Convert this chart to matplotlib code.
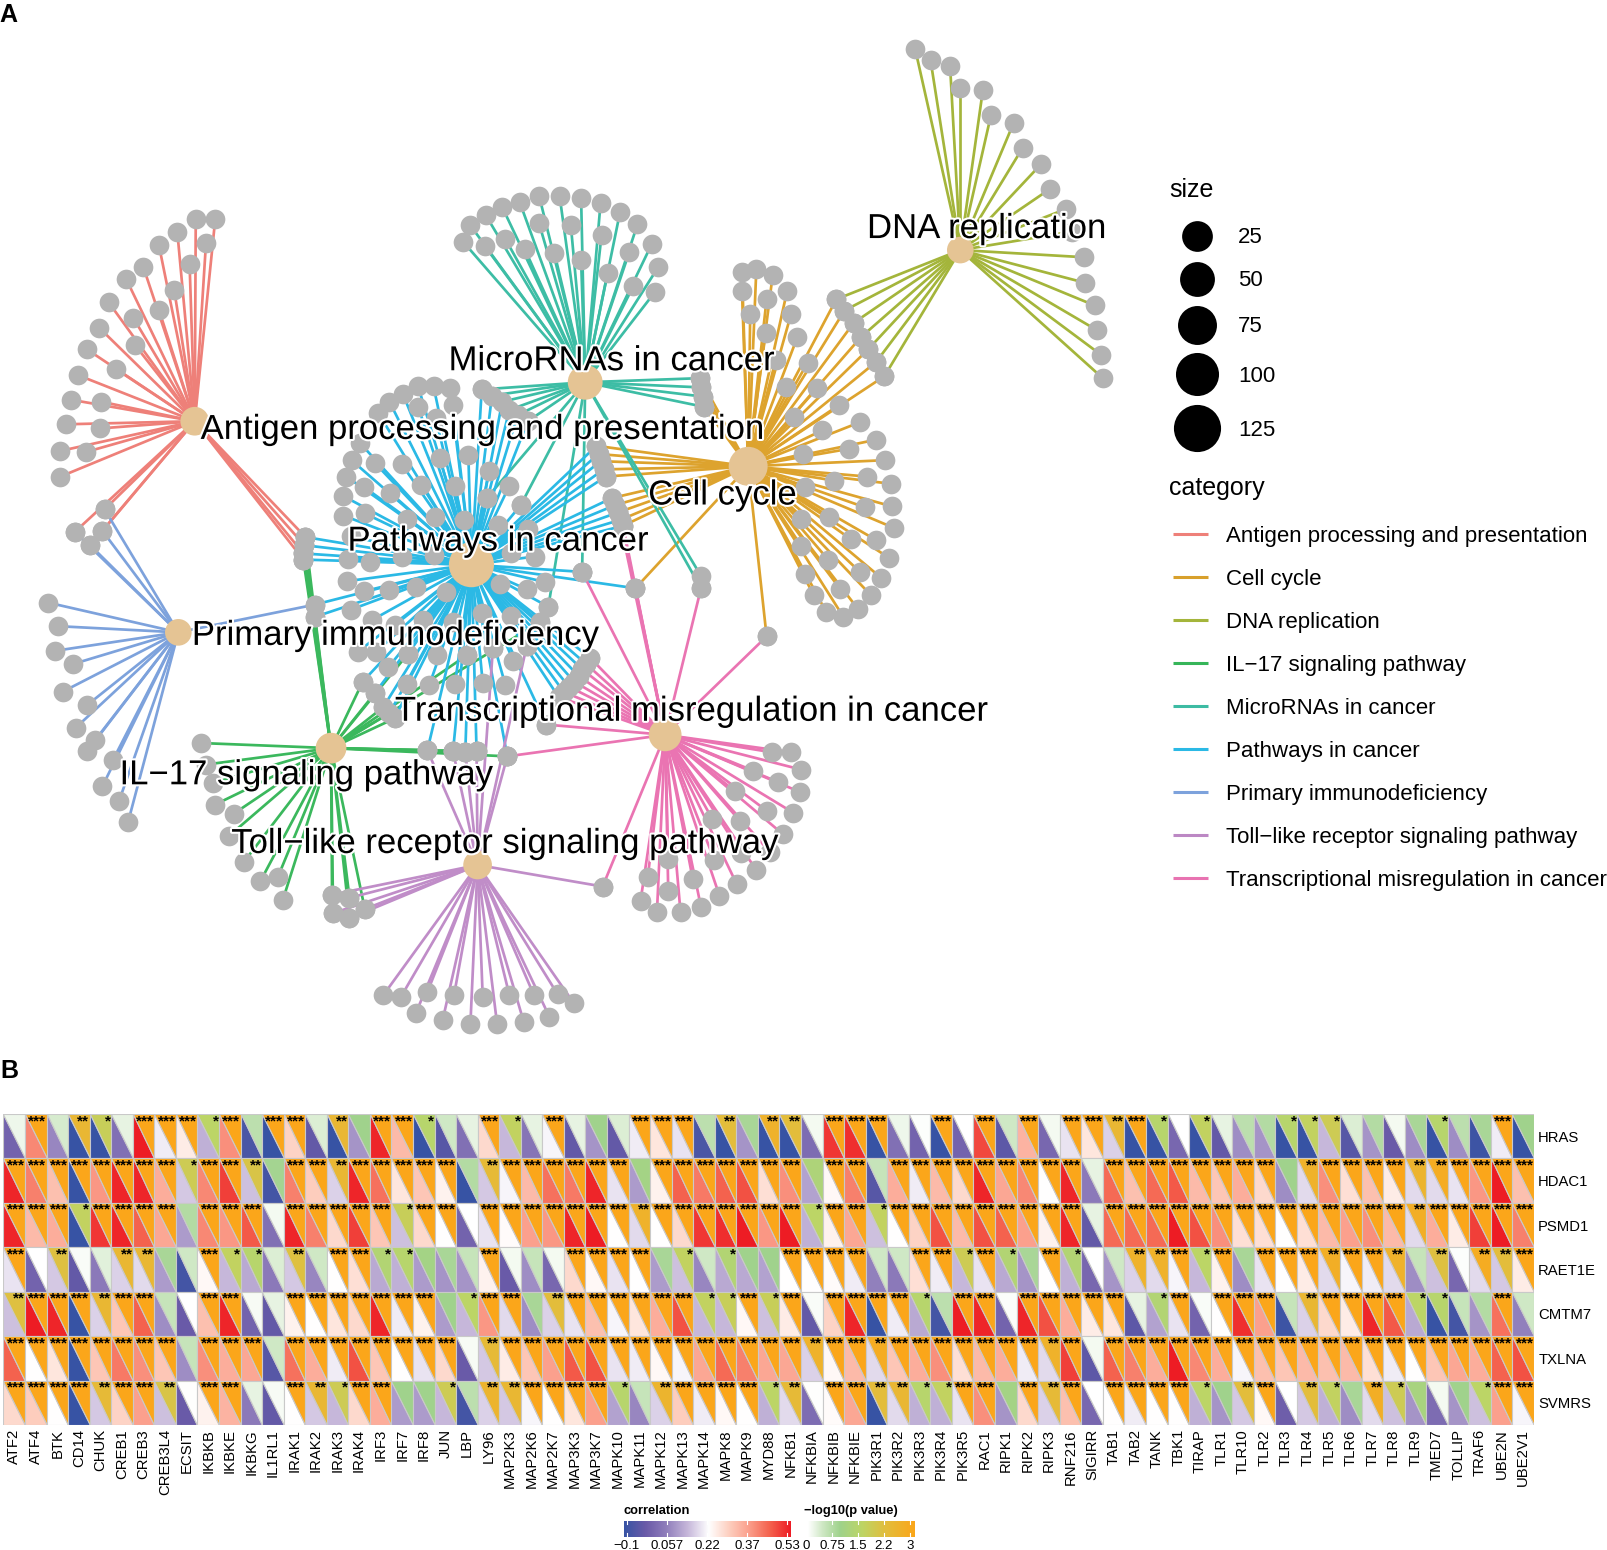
# -*- coding: utf-8 -*-
import matplotlib
matplotlib.use('Agg')
import matplotlib.pyplot as plt
import matplotlib.patheffects as pe
from matplotlib.collections import LineCollection, PolyCollection
from matplotlib.colors import LinearSegmentedColormap, Normalize
import numpy as np

plt.rcParams['font.family'] = ['Liberation Sans', 'DejaVu Sans']

###############################################################################
# Data : network (layout positions)
###############################################################################
category = ['Antigen processing and presentation', 'Cell cycle', 'DNA replication',
            'IL\u221217 signaling pathway', 'MicroRNAs in cancer', 'Pathways in cancer',
            'Primary immunodeficiency', 'Toll\u2212like receptor signaling pathway',
            'Transcriptional misregulation in cancer']
cat_colors = ['#EE8079', '#DDA32E', '#A4B53B', '#3BB85D', '#3DBDA5', '#2BB9E5',
              '#7DA2DC', '#C08DC8', '#EA74B2']
legend_colors = ['#EE8079', '#D8A02C', '#A4B53B', '#36B559', '#3DBBA3', '#2BB9E5',
                 '#7DA2DC', '#BC88C4', '#E873B1']
hub_pos = [(190, 411), (730, 455), (937, 244), (323, 730), (571, 373), (460, 551),
           (174, 617), (466, 844), (649, 717)]
hub_radius = [14, 19, 13, 15, 17, 22, 13, 14, 16]
label_pos = [(471, 419), (705, 483), (963, 223), (299, 756), (597, 352), (486, 528),
             (386, 620), (493, 823), (675, 694)]

# genes shared between pathways
shared_dna_cc = [(816, 292), (824, 303), (833, 315), (840, 329), (847, 341), (855, 353), (863, 367)]
shared_cc_mi = [(683, 369), (684, 378), (686, 387), (687, 397)]
shared_mi_pw = [(470, 380), (480, 386), (490, 392), (497, 400), (505, 405), (515, 411)]
shared_cc_pw_a = [(582, 435), (584, 443), (586, 450), (589, 458), (591, 465)]
shared_cc_pw_b = [(597, 486), (600, 493), (603, 500), (606, 507), (608, 513)]
shared_pw_tr = [(576, 642), (572, 648), (568, 653), (565, 660), (560, 665), (555, 670),
                (550, 675), (545, 680)]
shared_ag_pr = [(102, 497), (100, 518), (73, 519), (88, 532)]
shared_ag_il_pw = [(298, 524), (297, 532), (296, 540), (296, 546)]
shared_il_pw = [(354, 665), (366, 676), (374, 690), (380, 696), (385, 701)]
shared_low = [(417, 732), (442, 733), (454, 734), (465, 733)]
shared_il_tl = [(324, 873), (341, 876), (356, 887), (341, 896), (325, 891)]

leaves_antigen = [(191, 214), (210, 214), (173, 226), (155, 239), (201, 237), (185, 258),
                  (140, 261), (123, 272), (170, 283), (106, 295), (155, 302), (130, 310),
                  (97, 320), (85, 341), (132, 337), (76, 366), (113, 360), (69, 390),
                  (64, 414), (99, 392), (98, 418), (59, 440), (84, 441), (59, 465)]
leaves_cell = [(724, 265), (738, 262), (754, 268), (724, 284), (748, 292), (768, 284), (732, 306),
               (772, 306), (747, 325), (778, 329), (757, 351), (788, 354), (767, 378), (797, 379),
               (775, 407), (819, 395), (802, 420), (839, 412), (855, 429), (784, 443), (828, 438),
               (864, 449), (814, 469), (846, 465), (869, 472), (785, 475), (844, 495), (870, 494),
               (782, 506), (809, 504), (872, 515), (830, 526), (855, 527), (782, 533), (867, 544),
               (808, 546), (839, 558), (860, 564), (785, 560), (820, 575), (850, 581), (794, 581),
               (837, 594), (806, 597), (823, 602), (620, 574), (748, 621)]
leaves_dna = [(893, 48), (908, 59), (927, 64), (937, 86), (959, 88), (967, 112), (989, 120),
              (998, 144), (1016, 160), (1025, 184), (1040, 204), (1046, 226), (1058, 251),
              (1059, 276), (1068, 298), (1070, 322), (1074, 346), (1076, 369)]
leaves_il17 = [(196, 725), (201, 746), (208, 764), (210, 785), (228, 794), (223, 816), (238, 841),
               (254, 860), (271, 856), (276, 878), (495, 738), (398, 638), (456, 639), (527, 607),
               (307, 602)]
leaves_micro = [(452, 236), (459, 220), (474, 210), (490, 202), (507, 197), (526, 191), (546, 191),
                (567, 193), (586, 198), (605, 207), (622, 219), (636, 238), (642, 261), (639, 285),
                (618, 279), (614, 246), (593, 266), (587, 229), (567, 254), (557, 220), (541, 247),
                (526, 218), (512, 243), (493, 233), (473, 240), (684, 562),
                (684, 574), (568, 558), (535, 592), (508, 493), (475, 486)]
leaves_path = [(439, 379), (423, 377), (408, 377), (393, 384), (380, 392), (369, 403),
               (351, 432), (343, 449), (338, 465), (335, 484), (335, 503), (342, 523),
               (442, 395), (408, 397), (425, 408), (366, 452), (392, 453), (429, 447),
               (457, 444), (477, 460), (355, 475), (381, 481), (411, 473), (444, 474),
               (497, 474), (475, 486), (508, 493), (356, 501), (397, 506), (424, 504),
               (453, 507), (486, 512), (515, 516), (340, 545), (361, 548), (392, 543),
               (423, 542), (499, 540), (522, 543), (339, 567), (355, 577), (380, 576),
               (406, 573), (435, 578), (488, 570), (514, 575), (532, 568), (342, 595),
               (363, 605), (385, 610), (413, 605), (470, 598), (499, 601), (535, 592),
               (527, 607), (442, 607), (349, 636), (367, 636), (398, 638), (426, 639),
               (456, 639), (481, 632), (514, 630), (501, 645), (379, 651), (397, 667),
               (419, 668), (444, 667), (471, 666), (493, 668), (568, 558), (620, 574),
               (307, 590), (307, 602), (533, 707), (495, 738)]
leaves_primary = [(47, 588), (57, 611), (54, 635), (71, 648), (61, 675), (85, 688), (74, 710),
                  (93, 722), (85, 733), (110, 742), (100, 767), (116, 782), (125, 802),
                  (307, 590)]
leaves_toll = [(374, 971), (391, 973), (417, 968), (406, 988), (443, 971), (432, 995),
               (471, 973), (459, 999), (497, 971), (485, 999), (521, 971), (511, 997),
               (544, 970), (536, 992), (560, 979), (588, 865), (495, 738), (481, 632),
               (514, 630)]
leaves_trans = [(753, 734), (772, 734), (782, 751), (735, 752), (759, 763), (781, 773), (717, 772),
                (748, 791), (774, 793), (695, 799), (722, 801), (764, 814), (751, 831), (697, 839),
                (723, 832), (652, 838), (738, 849), (719, 863), (632, 856), (676, 858), (652, 869),
                (702, 874), (625, 879), (684, 885), (641, 890), (664, 890),
                (748, 621), (620, 574), (568, 558), (684, 574), (495, 738),
                (533, 707), (588, 865)]

hub_leaves = [leaves_antigen + shared_ag_pr + shared_ag_il_pw,
              leaves_cell + shared_dna_cc + shared_cc_mi + shared_cc_pw_a + shared_cc_pw_b,
              leaves_dna + shared_dna_cc,
              leaves_il17 + shared_ag_il_pw + shared_il_pw + shared_low + shared_il_tl,
              leaves_micro + shared_cc_mi + shared_mi_pw,
              leaves_path + shared_mi_pw + shared_cc_pw_a + shared_cc_pw_b + shared_pw_tr
              + shared_ag_il_pw + shared_il_pw + shared_low,
              leaves_primary + shared_ag_pr,
              leaves_toll + shared_il_tl + shared_low,
              leaves_trans + shared_cc_pw_b[2:] + shared_pw_tr]

size_breaks = [25, 50, 75, 100, 125]
size_radius = [15, 17, 19, 21, 23]

###############################################################################
# Data : heatmap
###############################################################################
genes = ['ATF2', 'ATF4', 'BTK', 'CD14', 'CHUK', 'CREB1', 'CREB3', 'CREB3L4', 'ECSIT', 'IKBKB',
         'IKBKE', 'IKBKG', 'IL1RL1', 'IRAK1', 'IRAK2', 'IRAK3', 'IRAK4', 'IRF3', 'IRF7', 'IRF8',
         'JUN', 'LBP', 'LY96', 'MAP2K3', 'MAP2K6', 'MAP2K7', 'MAP3K3', 'MAP3K7', 'MAPK10',
         'MAPK11', 'MAPK12', 'MAPK13', 'MAPK14', 'MAPK8', 'MAPK9', 'MYD88', 'NFKB1', 'NFKBIA',
         'NFKBIB', 'NFKBIE', 'PIK3R1', 'PIK3R2', 'PIK3R3', 'PIK3R4', 'PIK3R5', 'RAC1', 'RIPK1',
         'RIPK2', 'RIPK3', 'RNF216', 'SIGIRR', 'TAB1', 'TAB2', 'TANK', 'TBK1', 'TIRAP', 'TLR1',
         'TLR10', 'TLR2', 'TLR3', 'TLR4', 'TLR5', 'TLR6', 'TLR7', 'TLR8', 'TLR9', 'TMED7',
         'TOLLIP', 'TRAF6', 'UBE2N', 'UBE2V1']
targets = ['HRAS', 'HDAC1', 'PSMD1', 'RAET1E', 'CMTM7', 'TXLNA', 'SVMRS']

corr_hras = [0, .4, .07, -.1, -.1, .03, .53, .2, .25, .13, .39, -.07, -.1, .29, -.03, -.1, .09,
             .52, .33, -.1, -.05, .03, .28, .14, .04, .21, -.03, .09, -.03, .2, .26, .19, -.07,
             -.1, .09, -.1, -.1, .02, .5, .51, -.1, .03, 0, -.1, 0, .48, -.04, .34, .01, .19,
             .26, .17, -.1, -.1, .01, -.1, -.03, .08, .09, -.1, -.1, .14, -.05, .09, -.02, .08,
             -.1, .08, -.09, .2, -.1]
corr_hdac1 = [.52, .41, .32, -.1, .38, .52, .52, .35, .16, .4, .49, .15, -.08, .41, .3, .17, .52,
              .43, .26, .31, .24, -.1, .16, .21, .33, .43, .42, .52, .19, .1, .24, .45, .42, .45,
              .47, .27, .39, .11, .23, .41, -.05, .35, .2, .33, .28, .52, .36, .4, .22, .52,
              .05, .44, .32, .44, .46, .33, .31, .35, .28, .08, .18, .39, .27, .32, .25, .18,
              .18, .19, .38, .53, .32]
corr_psmd1 = [.52, .33, .35, -.1, .5, .52, .45, .36, .1, .4, .38, .46, .03, .52, .41, .28, .49,
              .31, .15, .28, .22, 0, .19, .225, .37, .38, .52, .53, .22, .18, .22, .28, .5, .51,
              .53, .38, .53, .13, .24, .36, .15, .22, .29, .47, .33, .47, .45, .37, .24, .52,
              -.03, .44, .44, .44, .53, .47, .39, .27, .27, .22, .27, .33, .37, .39, .33, .18,
              .35, .25, .49, .53, .41]
corr_raet1e = [.19, 0, .16, -.03, .05, .17, .18, .1, -.08, .23, .14, .12, .05, .16, .07, .22, .27,
               .12, .13, .1, .09, .09, .24, -.02, .08, .01, .28, .23, .19, .22, .1, .15, .07, .12,
               .12, .11, .22, .22, .225, .2, .06, .05, .27, .2, .14, .19, .12, .09, .22, .13,
               .01, .09, .17, .18, .21, .14, .24, .08, .19, .22, .25, .18, .21, .2, .18, .08,
               .15, .01, .18, .16, .25]
corr_cmtm7 = [.15, .53, .52, -.1, .17, .31, .45, .08, -.02, .32, .52, 0, -.03, .24, .22, .26, .28,
              .52, .2, .24, .1, .14, .38, .18, .08, .17, .19, .32, .21, .26, .35, .47, .14, .14,
              .23, .15, .25, -.03, .29, .52, -.1, .2, .12, -.08, .53, .52, 0, .52, .47, .35,
              .25, .26, -.04, .11, .19, 0, .22, .51, .37, -.09, .17, .28, .25, .52, .46, .12,
              -.1, -.08, .09, .43, .06]
corr_txlna = [.45, .22, .26, -.1, .31, .42, .39, .31, .08, .39, .35, .36, -.05, .43, .35, .2, .47,
              .31, .22, .19, .28, -.02, .16, .25, .31, .37, .46, .47, .19, .2, .23, .21, .36, .44,
              .41, .36, .36, .17, .23, .33, .18, .31, .35, .39, .27, .33, .35, .2, .18, .49,
              -.04, .45, .41, .35, .53, .4, .35, .21, .32, .31, .33, .32, .33, .27, .2, .22,
              .31, .36, .35, .45, .47]
corr_svmrs = [.28, .3, .22, -.1, .16, .29, .37, .15, -.02, .24, .34, .05, -.03, .22, .16, .14, .28,
              .35, .1, .1, .14, -.08, .17, .16, .21, .22, .26, .37, .11, .07, .17, .3, .2, .23,
              .22, .13, .18, .02, .225, .36, -.1, .18, .13, .13, .19, .39, .09, .28, .17, .32,
              .01, .22, .2, .22, .22, .13, .09, .16, .23, -.01, .16, .13, .08, .18, .15, .09,
              .02, .09, .15, .37, .21]

logp_hras = [.15, 3, .35, 2.4, 1.7, .2, 3, 3, 3, 1.5, 3, .6, 3, 3, .3, 2.4, .9, 3, 3, 1.4, .4, .2,
             3, 1.6, .2, 3, .2, .9, .3, 3, 3, 3, .6, 2.2, .8, 2.6, 2.2, .1, 3, 3, 3, .15, .03, 3, 0,
             3, .4, 3, .1, 3, 3, 2.4, 3, 1.4, 0, 1.6, .2, .6, .7, 1.4, 1.6, 1.8, .3, .7, .1, .8,
             1.4, .6, .8, 3, .9]
logp_hdac1 = [3, 3, 3, 3, 3, 3, 3, 3, 1.8, 3, 3, 2, .85, 3, 3, 2.4, 3, 3, 3, 3, 3, .7, 2.3, 3, 3,
              3, 3, 3, 3, 1, 3, 3, 3, 3, 3, 3, 3, 1.2, 3, 3, .5, 3, 3, 3, 3, 3, 3, 3, 3, 3,
              .2, 3, 3, 3, 3, 3, 3, 3, 3, .9, 2.6, 3, 3, 3, 3, 2.5, 2.8, 3, 3, 3, 3]
logp_psmd1 = [3, 3, 3, 1.6, 3, 3, 3, 3, .7, 3, 3, 3, .1, 3, 3, 3, 3, 3, 1.7, 3, 3, 0, 3, 3, 3,
              3, 3, 3, 3, 2.6, 3, 3, 3, 3, 3, 3, 3, 1.5, 3, 3, 1.6, 3, 3, 3, 3, 3, 3, 3, 3, 3,
              .2, 3, 3, 3, 3, 3, 3, 3, 3, 3, 3, 3, 3, 3, 3, 2.7, 3, 3, 3, 3, 3]
logp_raet1e = [3, 0, 2.1, .05, .25, 2.4, 2.4, .8, .4, 3, 1.6, 1.4, .3, 2.1, .4, 3, 3, 1.3, 1.4, 1,
               .8, .5, 3, .1, .5, .1, 3, 3, 3, 3, .8, 1.6, .4, 1.3, .9, .9, 3, 3, 3, 3, .4, .4, 3,
               3, 1.8, 3, 1.3, .8, 3, 1.3, 0, .4, 2.6, 2.6, 3, 1.5, 3, .8, 3, 3, 3, 2.7, 3, 3, 2.6,
               .5, 2.1, .03, 2.8, 2.2, 3]
logp_cmtm7 = [2.1, 3, 3, 3, 2.4, 3, 3, .5, 0, 3, 3, .08, .2, 3, 3, 3, 3, 3, 3, 3, .9, 1.5, 3, 3,
              .8, 2.2, 3, 3, 3, 3, 3, 3, 1.6, 1.7, 3, 1.7, 3, .05, 3, 3, 3, 3, 1.4, .6, 3, 3, .04,
              3, 3, 3, 3, 3, .2, 1.3, 3, .05, 3, 3, 3, .5, 2.4, 3, 3, 3, 3, 1.5, 1.4, .5, .7, 3, .4]
logp_txlna = [3, 3, 3, 3, 3, 3, 3, 3, .5, 3, 3, 3, .4, 3, 3, 3, 3, 3, 3, 3, 3, .08, 2.3, 3, 3,
              3, 3, 3, 3, 3, 3, 3, 3, 3, 3, 3, 3, 2.6, 3, 3, 2.8, 3, 3, 3, 3, 3, 3, 3, 2.6, 3,
              .1, 3, 3, 3, 3, 3, 3, 3, 3, 3, 3, 3, 3, 3, 3, 3, 3, 3, 3, 3, 3]
logp_svmrs = [3, 3, 3, 3, 2.3, 3, 3, 2, .02, 3, 3, .2, .08, 3, 2.4, 1.8, 3, 3, .9, .9, 1.8, .6, 2.5,
              2.4, 3, 3, 3, 3, 1.4, .5, 2.5, 3, 3, 3, 3, 1.5, 2.3, .02, 3, 3, 2.2, 2.4, 1.4, 1.6,
              3, 3, 1, 3, 2.3, 3, .01, 3, 3, 3, 3, 1.5, .9, 2.2, 3, .0, 2.2, 1.6, .8, 2.7, 1.8,
              1.1, .1, .9, 1.5, 3, 3]

corr_vals = np.array([corr_hras, corr_hdac1, corr_psmd1, corr_raet1e, corr_cmtm7, corr_txlna, corr_svmrs])
logp_vals = np.array([logp_hras, logp_hdac1, logp_psmd1, logp_raet1e, logp_cmtm7, logp_txlna, logp_svmrs])

corr_ticklabels = ['\u22120.1', '0.057', '0.22', '0.37', '0.53']
logp_ticklabels = ['0', '0.75', '1.5', '2.2', '3']

###############################################################################
# Colour scales
###############################################################################
corr_norm = Normalize(-0.1, 0.53)
logp_norm = Normalize(0, 3)


def stops(values, colors, norm):
    return LinearSegmentedColormap.from_list('c', [(float(norm(v)), c) for v, c in zip(values, colors)])


corr_cmap = stops([-0.1, -0.02, 0.057, 0.14, 0.22, 0.3, 0.37, 0.45, 0.53],
                  ['#3753A4', '#6A5AA8', '#8F7DBB', '#C6B7DA', '#FFFFFF', '#FDCDBD', '#FBA08D',
                   '#F4634E', '#ED1C24'], corr_norm)
logp_cmap = stops([0, 0.4, 0.9, 1.5, 2.2, 3],
                  ['#FFFFFF', '#CFE8C5', '#9FD28B', '#BCD566', '#E3BD3B', '#FBA61A'], logp_norm)

###############################################################################
# Figure
###############################################################################
W, H = 1607, 1550
SCALE = W / 1568.0                # layout values were read on a 1568 wide picture
fig = plt.figure(figsize=(W / 100, H / 100), dpi=100)
ax = fig.add_axes([0, 0, 1, 1])
ax.set_xlim(0, 1568)
ax.set_ylim(1550 / SCALE, 0)
ax.axis('off')


def area(radius):
    return (2 * radius * SCALE * 0.72) ** 2


# edges, nodes, labels
for hub, leaves, col in zip(hub_pos, hub_leaves, cat_colors):
    ax.add_collection(LineCollection([[hub, p] for p in leaves], colors=col, linewidths=1.95, zorder=1))
all_leaves = np.array([p for leaves in hub_leaves for p in leaves])
ax.scatter(all_leaves[:, 0], all_leaves[:, 1], s=area(9.6), c='#B3B3B3', linewidths=0, zorder=2)
hubs = np.array(hub_pos)
ax.scatter(hubs[:, 0], hubs[:, 1], s=[area(r) for r in hub_radius], c='#E5C494', linewidths=0, zorder=3)
for name, pos in zip(category, label_pos):
    ax.text(pos[0], pos[1], name, fontsize=25, ha='center', va='center', color='black', zorder=4,
            path_effects=[pe.withStroke(linewidth=3, foreground='white')])

ax.text(-1, 15, 'A', fontsize=18, fontweight='bold', ha='left', va='center')
ax.text(0, 1045, 'B', fontsize=18, fontweight='bold', ha='left', va='center')

# legends of the network
ax.text(1141, 185, 'size', fontsize=18, ha='left', va='center')
size_y = [230, 272, 317, 365, 418]
for b, r, y in zip(size_breaks, size_radius, size_y):
    ax.scatter([1168], [y], s=area(r), c='black', linewidths=0)
    ax.text(1208, y + 2, str(b), fontsize=16, ha='left', va='center')
ax.text(1141, 476, 'category', fontsize=18, ha='left', va='center')
cat_y = [521, 563, 605, 647, 689, 731, 773, 815, 857]
for name, col, y in zip(category, legend_colors, cat_y):
    ax.plot([1145, 1179], [y, y], color=col, lw=2.2, solid_capstyle='butt')
    ax.text(1196, y + 2, name, fontsize=16, ha='left', va='center')

# heatmap
left, right, top, bottom = 3.4, 1534.0, 1114.0, 1425.0
hax = fig.add_axes([left / W, 1 - bottom / H, (right - left) / W, (bottom - top) / H])
hax.set_xlim(0, len(genes))
hax.set_ylim(len(targets), 0)
polys, facecols = [], []
for i in range(len(targets)):
    for j in range(len(genes)):
        polys.append([(j, i), (j, i + 1), (j + 1, i + 1)])
        facecols.append(corr_cmap(corr_norm(corr_vals[i, j])))
        polys.append([(j, i), (j + 1, i), (j + 1, i + 1)])
        facecols.append(logp_cmap(logp_norm(logp_vals[i, j])))
        lp = logp_vals[i, j]
        stars = '***' if lp >= 2.85 else '**' if lp >= 2 else '*' if lp >= 1.3 else ''
        if stars:
            hax.text(j + 0.99, i + 0.0, stars, fontsize=11, fontweight='bold', ha='right', va='top',
                     color='black', zorder=5)
hax.add_collection(PolyCollection(polys, facecolors=facecols, edgecolors='#C9C9C9', linewidths=0.8))
hax.set_xticks(np.arange(len(genes)) + 0.5)
hax.set_xticklabels(genes, rotation=90, fontsize=10.7)
hax.yaxis.tick_right()
hax.set_yticks(np.arange(len(targets)) + 0.5)
hax.set_yticklabels(targets, fontsize=10.7)
hax.tick_params(length=0, pad=3)
for s in hax.spines.values():
    s.set_visible(False)


# colour bars under the heatmap
def colorbar(x0, x1, tick0, tick1, cmap, norm, labels, title, title_x):
    y0, y1 = 1521.0, 1536.5
    cax = fig.add_axes([x0 / W, 1 - y1 / H, (x1 - x0) / W, (y1 - y0) / H])
    grad = np.linspace(norm.vmin, norm.vmax, 256).reshape(1, -1)
    cax.imshow(grad, cmap=cmap, norm=norm, aspect='auto', extent=[x0, x1, 0, 1])
    for v, lab in zip(np.linspace(tick0, tick1, len(labels)), labels):
        cax.plot([v, v], [0, 0.2], color='white', lw=0.8)
        cax.plot([v, v], [0.8, 1], color='white', lw=0.8)
        cax.text(v, -0.22, lab, fontsize=9.5, ha='center', va='top',
                 transform=cax.get_xaxis_transform(), clip_on=False)
    cax.set_xlim(x0, x1)
    cax.set_ylim(0, 1)
    cax.axis('off')
    fig.text(title_x / W, 1 - 1511 / H, title, fontsize=9.3, fontweight='bold', ha='left', va='center')


colorbar(624, 791, 627, 787, corr_cmap, corr_norm, corr_ticklabels, 'correlation', 624)
colorbar(808, 915, 806, 910, logp_cmap, logp_norm, logp_ticklabels, '\u2212log10(p value)', 804)

fig.savefig('out.png', dpi=100)
